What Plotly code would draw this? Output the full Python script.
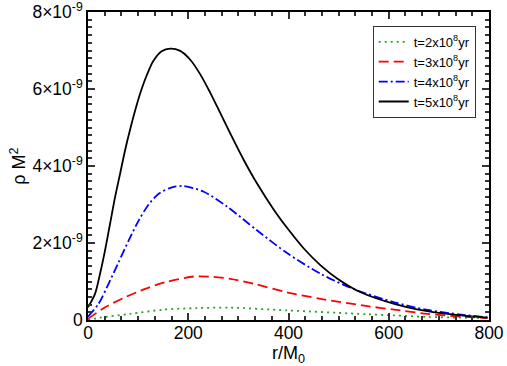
import plotly.graph_objects as go

# r/M0 sample positions and rho M^2 values (in units of 1e-9)
r_t2 = [0, 24, 84, 151, 217, 284, 397, 557, 611, 677, 744, 797]
rho_t2 = [0.0, 0.06, 0.16, 0.27, 0.31, 0.32, 0.25, 0.15, 0.12, 0.08, 0.06, 0.05]

r_t3 = [0, 34, 74, 114, 154, 211, 251, 284, 331, 397, 464, 557, 611, 677, 744, 797]
rho_t3 = [0.03, 0.33, 0.59, 0.81, 0.98, 1.13, 1.12, 1.07, 0.94, 0.72, 0.55, 0.36, 0.27, 0.16, 0.09, 0.05]

r_t4 = [0, 21, 41, 61, 81, 101, 121, 141, 166, 191, 231, 277, 337, 397, 464, 531, 611, 677, 744, 797]
rho_t4 = [0.09, 0.42, 0.94, 1.5, 2.06, 2.58, 3.0, 3.28, 3.44, 3.48, 3.33, 2.95, 2.33, 1.74, 1.2, 0.8, 0.46, 0.26, 0.14, 0.07]

r_t5 = [0, 14, 24, 34, 44, 54, 64, 74, 84, 97, 107, 117, 130, 147, 164, 184, 204, 224, 244, 257, 284,
        311, 337, 371, 401, 431, 464, 497, 544, 611, 677, 744, 797]
rho_t5 = [0.33, 0.68, 1.2, 1.81, 2.5, 3.19, 3.8, 4.41, 4.95, 5.58, 6.0, 6.35, 6.72, 6.98, 7.05, 6.99, 6.76,
          6.38, 5.9, 5.56, 4.84, 4.15, 3.55, 2.86, 2.33, 1.85, 1.42, 1.08, 0.72, 0.42, 0.23, 0.12, 0.06]

names = ['t=2x10<sup>8</sup>yr', 't=3x10<sup>8</sup>yr', 't=4x10<sup>8</sup>yr', 't=5x10<sup>8</sup>yr']

y_ticks = [0, 2e-9, 4e-9, 6e-9, 8e-9]
y_ticktext = ['0', '2×10<sup>-9</sup>', '4×10<sup>-9</sup>', '6×10<sup>-9</sup>', '8×10<sup>-9</sup>']

fig = go.Figure()

series = [
    (r_t2, rho_t2, names[0], '#2ca02c', '2px,4px'),
    (r_t3, rho_t3, names[1], '#ff0000', '10px,5px'),
    (r_t4, rho_t4, names[2], '#0000ff', '9px,3px,2px,3px'),
    (r_t5, rho_t5, names[3], '#000000', 'solid'),
]
for r, rho, name, color, dash in series:
    fig.add_trace(go.Scatter(
        x=r, y=[v * 1e-9 for v in rho],
        mode='lines', name=name, line_shape='spline',
        line=dict(color=color, width=1.8, dash=dash, smoothing=0.8)
    ))

axis_common = dict(
    showline=True, linecolor='black', linewidth=1.5, mirror='allticks',
    ticks='inside', ticklen=7, tickwidth=1.5, tickcolor='#333',
    showgrid=False, zeroline=False, automargin=False, ticklabeloverflow='allow',
    tickfont=dict(family='Liberation Sans, Arial', size=17.5, color='black'),
)

fig.update_layout(
    width=507, height=366,
    margin=dict(l=88, r=18, t=12, b=46),
    plot_bgcolor='white', paper_bgcolor='white',
    font=dict(family='Liberation Sans, Arial', color='black'),
    showlegend=True,
    legend=dict(
        x=0.71, y=0.955, xanchor='left', yanchor='top',
        bordercolor='#333', borderwidth=1, bgcolor='white',
        font=dict(size=13), tracegroupgap=0, itemwidth=30,
    ),
    xaxis=dict(
        range=[0, 800], dtick=200, ticklabelstandoff=-4,
        minor=dict(dtick=200 / 6, ticks='inside', ticklen=4, tickcolor='#333'),
        title=dict(text='r/M<sub>0</sub>', font=dict(size=18), standoff=0),
        **axis_common
    ),
    yaxis=dict(
        range=[0, 8e-9], tickvals=y_ticks, ticktext=y_ticktext,
        minor=dict(dtick=0.2e-9, ticks='inside', ticklen=4, tickcolor='#333'),
        title=dict(text='ρ M<sup>2</sup>', font=dict(size=18), standoff=2),
        **axis_common
    ),
)

# drop the default body margin so the figure sits at the page corner
fig.write_html("out.html", config={'displayModeBar': False},
               post_script="document.body.style.margin='0';")
